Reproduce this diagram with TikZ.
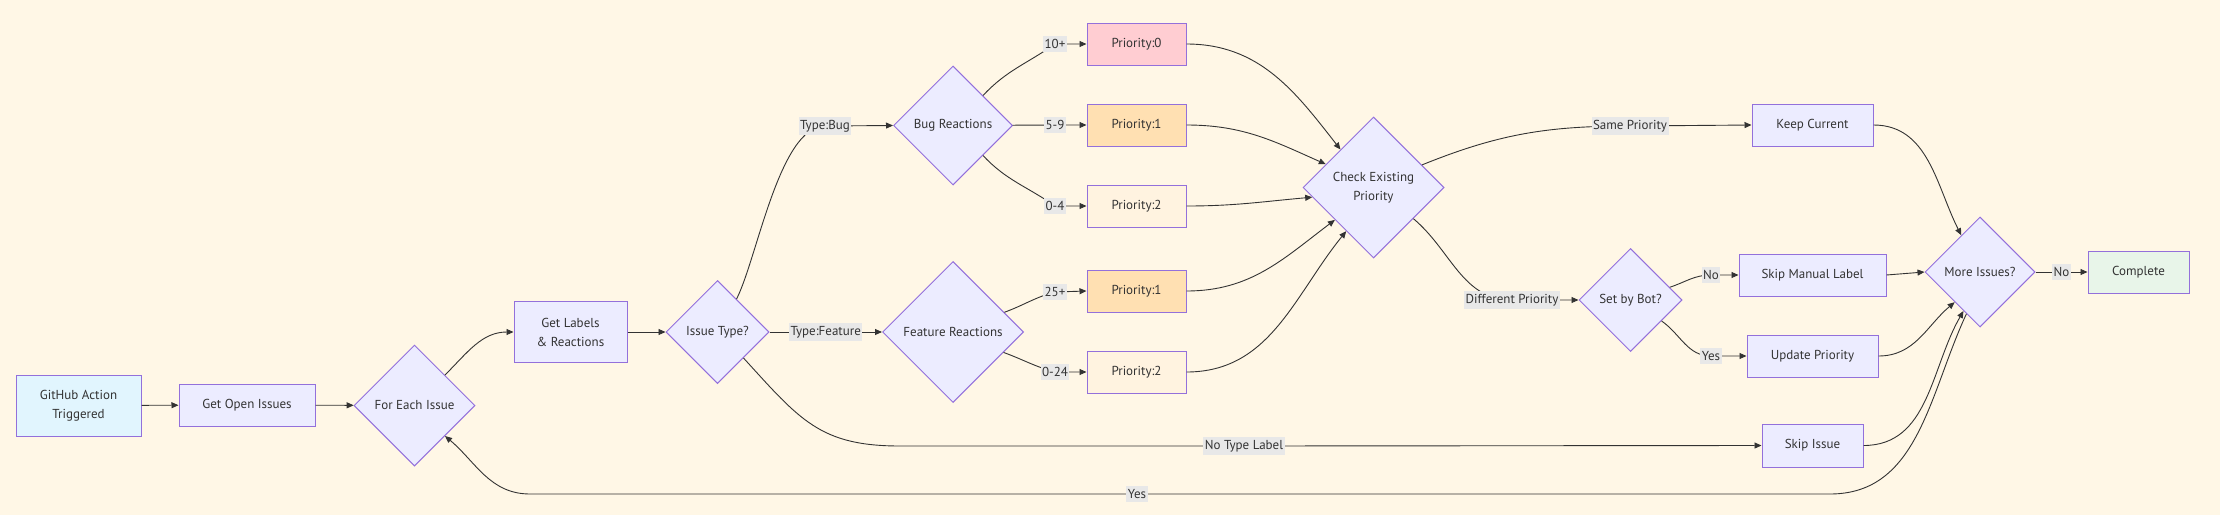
\documentclass[tikz,border=0pt]{standalone}
\usepackage{fontspec}
\setmainfont{PT Sans}
\usetikzlibrary{shapes.geometric,arrows.meta}
\definecolor{bgcream}{HTML}{FFF7E6}
\definecolor{nodefill}{HTML}{ECECFF}
\definecolor{nodeline}{HTML}{9370DB}
\definecolor{edgeline}{HTML}{333333}
\definecolor{lblfill}{HTML}{E8E8E8}
\definecolor{pzero}{HTML}{FFCDD2}
\definecolor{pone}{HTML}{FFE0B2}
\definecolor{ptwo}{HTML}{FFF3E0}
\definecolor{startfill}{HTML}{E1F5FE}
\definecolor{donefill}{HTML}{E8F5E9}
\begin{document}
\begin{tikzpicture}[x=1pt,y=1pt,
  every node/.style={font=\fontsize{13}{19}\selectfont, text=edgeline},
  box/.style={draw=nodeline, fill=nodefill, line width=1pt, minimum height=42, inner sep=0pt, align=center},
  choice/.style={draw=nodeline, fill=nodefill, line width=1pt, diamond, aspect=1, inner sep=0pt, align=center},
  flow/.style={draw=edgeline, line width=0.9pt, -{Triangle[length=7pt,width=6pt]}},
  elabel/.style={fill=lblfill, inner xsep=1.5pt, inner ysep=3pt}]
\useasboundingbox (0,0) rectangle (2220,-515);
\fill [bgcream] (0,0) rectangle (2220,-515);
% nodes
\node [box, fill=startfill, minimum width=125, minimum height=61] (gh) at (78.5,-405.5) {GitHub Action\\Triggered};
\node [box, minimum width=136] (openiss) at (247,-405) {Get Open Issues};
\node [choice, minimum size=121] (foreach) at (414.5,-405.5) {For Each Issue};
\node [box, minimum width=113, minimum height=61] (getlab) at (570.5,-332) {Get Labels\\\& Reactions};
\node [choice, minimum size=103] (isstype) at (717.5,-332) {Issue Type?};
\node [choice, minimum size=119] (bugreact) at (953,-125.5) {Bug Reactions};
\node [choice, minimum size=141] (featreact) at (953,-332) {Feature Reactions};
\node [box, fill=pzero, minimum width=99] (bp0) at (1136.5,-44) {Priority:0};
\node [box, fill=pone, minimum width=99] (bp1) at (1136.5,-125) {Priority:1};
\node [box, fill=ptwo, minimum width=99] (bp2) at (1136.5,-206) {Priority:2};
\node [box, fill=pone, minimum width=99] (fp1) at (1136.5,-291) {Priority:1};
\node [box, fill=ptwo, minimum width=99] (fp2) at (1136.5,-372) {Priority:2};
\node [choice, minimum size=141] (check) at (1373.5,-187.5) {Check Existing\\Priority};
\node [box, minimum width=121] (keep) at (1812.5,-125) {Keep Current};
\node [choice, minimum size=103] (setbot) at (1630.5,-300) {Set by Bot?};
\node [box, minimum width=147] (skipman) at (1812.5,-275) {Skip Manual Label};
\node [box, minimum width=131] (update) at (1812.5,-356) {Update Priority};
\node [box, minimum width=101, minimum height=43] (skipiss) at (1812.5,-445.5) {Skip Issue};
\node [choice, minimum size=110] (more) at (1980,-272) {More Issues?};
\node [box, fill=donefill, minimum width=101] (done) at (2138.5,-272) {Complete};
% edges
\draw [flow] (gh) -- (openiss);
\draw [flow] (openiss) -- (foreach);
\draw [flow] (foreach.north east) to[out=45,in=180] (getlab.west);
\draw [flow] (getlab) -- (isstype);
\draw [flow] (isstype.60) to[out=63,in=180,looseness=0.6] (825,-126) node [elabel] (lbug) {Type:Bug} -- (bugreact.west);
\draw [flow] (isstype) -- node [elabel] (lfeat) {Type:Feature} (featreact);
\draw [flow] (isstype.south east) .. controls (800,-420) and (820,-446) .. (900,-446) -- (1244,-446) node [elabel] (lnotype) {No Type Label} -- (skipiss.west);
\draw [flow] (bugreact.north east) to[out=47,in=215] (1055,-44) node [elabel] (lten) {10+} -- (bp0.west);
\draw [flow] (bugreact) -- (1055,-125) node [elabel] (lfive) {5-9} -- (bp1.west);
\draw [flow] (bugreact.south east) to[out=-47,in=145] (1055,-206) node [elabel] (lzero) {0-4} -- (bp2.west);
\draw [flow] (featreact.21) to[out=20,in=195] (1055,-292) node [elabel] (ltwfive) {25+} -- (fp1.west);
\draw [flow] (featreact.-22) to[out=-20,in=165] (1055,-372) node [elabel] (ltwfour) {0-24} -- (fp2.west);
\draw [flow] (bp0.east) to[out=0,in=128] (check.131);
\draw [flow] (bp1.east) to[out=0,in=156] (check.154);
\draw [flow] (bp2.east) to[out=0,in=185] (check.189);
\draw [flow] (fp1.east) to[out=0,in=217] (check.220);
\draw [flow] (fp2.east) to[out=0,in=231] (check.238);
\draw [flow] (check.25) to[out=22,in=180] (1630,-126) node [elabel] (lsame) {Same Priority} -- (keep.west);
\draw [flow] (check.-38) to[out=-40,in=180] (1512,-300) node [elabel] (ldiff) {Different Priority} -- (setbot.west);
\draw [flow] (setbot.18) to[out=18,in=180] (1711,-275) node [elabel] (lno) {No} -- (skipman.west);
\draw [flow] (setbot.-34) to[out=-35,in=180] (1711,-356) node [elabel] (lyes) {Yes} -- (update.west);
\draw [flow] (keep.east) to[out=0,in=117] (more.117);
\draw [flow] (skipman.east) -- (more.west);
\draw [flow] (update.east) to[out=0,in=220] (more.230);
\draw [flow] (skipiss.east) to[out=0,in=240] (more.247);
\draw [flow] (more) -- node [elabel] (lend) {No} (done);
\draw [flow] (more.252) to[out=245,in=0] (1830,-494) -- (1137,-494) node [elabel] (lloop) {Yes} -- (530,-494) to[out=180,in=-40] (foreach.south east);
\end{tikzpicture}
\end{document}
